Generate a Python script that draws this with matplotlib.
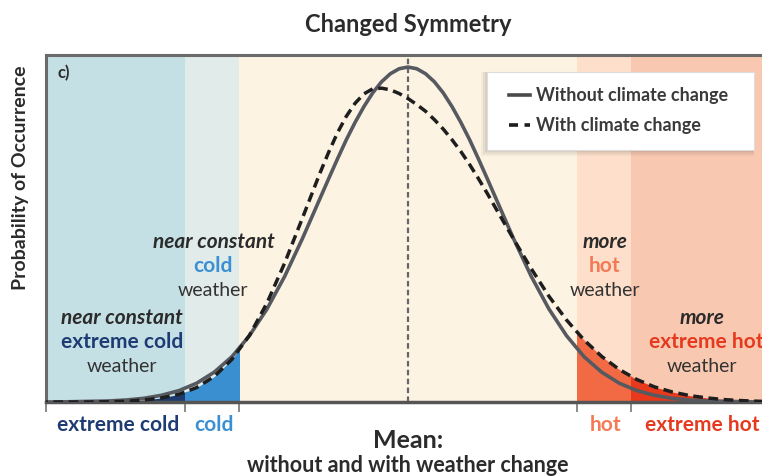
import matplotlib
matplotlib.use("Agg")
from matplotlib import pyplot as plt
from matplotlib.patches import Rectangle
from matplotlib.lines import Line2D

# x in units of the "without" standard deviation, mean at 0
x = [-4.2, -4.0, -3.8, -3.6, -3.4, -3.2, -3.0, -2.8, -2.6, -2.4, -2.2,
     -2.0, -1.8, -1.6, -1.4, -1.2, -1.0, -0.9, -0.8, -0.7, -0.6, -0.5,
     -0.4, -0.3, -0.2, -0.1, 0.0, 0.1, 0.2, 0.3, 0.4, 0.5, 0.6, 0.7,
     0.8, 0.9, 1.0, 1.2, 1.4, 1.6, 1.8, 2.0, 2.2, 2.4, 2.6,
     2.8, 3.0, 3.2, 3.4, 3.6, 3.8, 4.0, 4.2]

without_cc = [0.000, 0.000, 0.001, 0.002, 0.003, 0.006, 0.011, 0.020, 0.034,
              0.056, 0.089, 0.135, 0.198, 0.278, 0.375, 0.487, 0.607, 0.667,
              0.726, 0.783, 0.835, 0.882, 0.923, 0.956, 0.980, 0.995, 1.000,
              0.995, 0.980, 0.956, 0.923, 0.882, 0.835, 0.783, 0.726, 0.667,
              0.607, 0.487, 0.375, 0.278, 0.198, 0.135, 0.089, 0.056, 0.034,
              0.020, 0.011, 0.006, 0.003, 0.002, 0.001, 0.000, 0.000]

with_cc = [0.000, 0.000, 0.000, 0.000, 0.001, 0.002, 0.006, 0.012, 0.023,
           0.043, 0.076, 0.127, 0.199, 0.296, 0.415, 0.548, 0.683, 0.746,
           0.804, 0.853, 0.892, 0.920, 0.935, 0.937, 0.932, 0.921, 0.906,
           0.888, 0.868, 0.843, 0.815, 0.783, 0.748, 0.709, 0.667, 0.623,
           0.577, 0.486, 0.398, 0.316, 0.245, 0.185, 0.136, 0.097, 0.067,
           0.045, 0.030, 0.019, 0.012, 0.007, 0.004, 0.002, 0.001]

# zone edges (left edge, cold, normal, hot, extreme hot, right edge)
edges = [-4.11, -2.53, -1.92, 1.92, 2.53, 4.02]
zone_names = ["extreme cold", "cold", "", "hot", "extreme hot"]
zone_bg = ["#c5e0e5", "#e1ebe9", "#fdf3e3", "#fddfcb", "#f9c8b0"]
zone_fill = ["#1d3b6f", "#3a8fd1", None, "#f26a43", "#e8391d"]
zone_text = ["#1e3c73", "#3b90d3", None, "#f47a55", "#e63a1f"]

W, H = 762, 476
DARK = "#2b2b2b"
FONT = "Lato"


def fxy(px, py):
    return px / W, 1 - py / H


def main():
    fig = plt.figure(figsize=(W / 100, H / 100), dpi=100)
    ax = fig.add_axes([46 / W, 74 / H, 1 - 46 / W, (402 - 55) / H])
    ax.set_xlim(edges[0], edges[-1])
    ax.set_ylim(0, 1.036)

    for i in range(5):
        ax.axvspan(edges[i], edges[i + 1], color=zone_bg[i], lw=0, zorder=0)
        if zone_fill[i]:
            poly = ax.fill_between(x, 0, with_cc, color=zone_fill[i], lw=0, zorder=1)
            clip = Rectangle((edges[i], 0), edges[i + 1] - edges[i], 2,
                             transform=ax.transData)
            poly.set_clip_path(clip)

    ax.axvline(0, color="#666666", lw=1.6, ls=(0, (2.5, 1.5)), zorder=2)
    ax.plot(x, without_cc, color="#565a60", lw=2.6, zorder=3,
            solid_capstyle="round", solid_joinstyle="round")
    ax.plot(x, with_cc, color="#1e1e1e", lw=2.5, ls=(0, (2.8, 1.6)), zorder=4)

    for s in ["left", "top"]:
        ax.spines[s].set_color("#6a6a6a")
        ax.spines[s].set_linewidth(2.2)
    ax.spines["bottom"].set_color("#555555")
    ax.spines["bottom"].set_linewidth(2.5)
    ax.spines["right"].set_visible(False)
    ax.set_yticks([])
    ax.set_xticks(edges[:-1])
    ax.set_xticklabels([])
    ax.tick_params(axis="x", direction="out", length=7, width=1.2,
                   color="#777777")

    # legend box with soft shadow
    for k, a in enumerate([0.06, 0.05, 0.04]):
        off = 2 + 2 * k
        fig.patches.append(Rectangle(fxy(487 - off, 150 + off),
                                     (267 + off) / W, (78 + off) / H,
                                     transform=fig.transFigure,
                                     color="black", alpha=a, lw=0, zorder=5))
    fig.patches.append(Rectangle(fxy(487, 150), 267 / W, 78 / H,
                                 transform=fig.transFigure, facecolor="white",
                                 edgecolor="#dddddd", lw=0.8, zorder=6))
    fig.lines.append(Line2D([509 / W, 530 / W], [1 - 95 / H] * 2,
                            transform=fig.transFigure, color="#4a4a4a",
                            lw=2.6, zorder=7))
    fig.lines.append(Line2D([509 / W, 530 / W], [1 - 125 / H] * 2,
                            transform=fig.transFigure, color="#1e1e1e",
                            lw=2.6, ls=(0, (2.5, 1.8)), zorder=7))
    fig.text(*fxy(536, 95), "Without climate change", fontsize=13,
             family=FONT, weight="bold", color="#3a3a3a", va="center",
             zorder=8)
    fig.text(*fxy(536, 125), "With climate change", fontsize=13,
             family=FONT, weight="bold", color="#3a3a3a", va="center",
             zorder=8)

    def label(px, py, s, color=DARK, style="normal", weight="bold", size=15):
        fig.text(*fxy(px, py), s, ha="center", va="center", color=color,
                 fontsize=size, family=FONT, style=style, weight=weight)

    label(408, 24, "Changed Symmetry", size=17)
    fig.text(*fxy(21, 178), "Probability of Occurrence", rotation=90,
             ha="center", va="center", fontsize=14, family=FONT,
             weight="bold", color=DARK)
    label(64, 73, "c)", size=12)

    label(214, 242, "near constant", style="italic")
    label(213, 266, "cold", color=zone_text[1])
    label(213, 290, "weather", color="#333333", weight="normal", size=14)
    label(122, 318, "near constant", style="italic")
    label(122, 342, "extreme cold", color=zone_text[0])
    label(122, 367, "weather", color="#333333", weight="normal", size=14)

    label(605, 242, "more", style="italic")
    label(605, 266, "hot", color=zone_text[3])
    label(605, 290, "weather", color="#333333", weight="normal", size=14)
    label(702, 318, "more", style="italic")
    label(706, 342, "extreme hot", color=zone_text[4])
    label(702, 367, "weather", color="#333333", weight="normal", size=14)

    # zone names under the axis
    centers = [118, 214, None, 606, 702]
    for i, c in enumerate(centers):
        if c:
            label(c, 425, zone_names[i], color=zone_text[i])

    label(408, 440, "Mean:", size=18)
    label(408, 466, "without and with weather change", size=15.5)

    fig.savefig("out.png", dpi=100)


if __name__ == "__main__":
    main()
